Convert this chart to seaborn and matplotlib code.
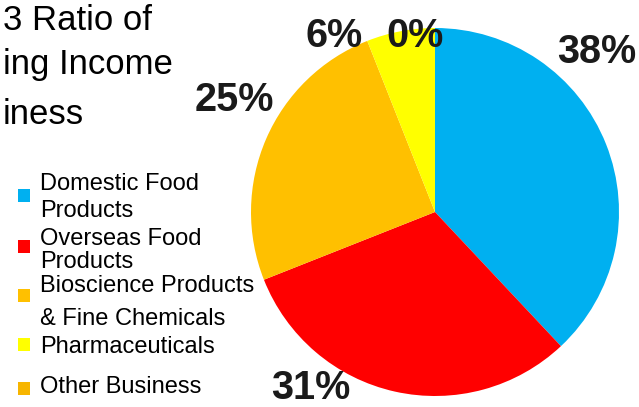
import matplotlib
matplotlib.use("Agg")
import matplotlib.pyplot as plt
from matplotlib.patches import Rectangle
import seaborn as sns

# Share of operating income by business segment (%)
segments = [
    "Domestic Food\nProducts",
    "Overseas Food\nProducts",
    "Bioscience Products\n& Fine Chemicals",
    "Pharmaceuticals",
    "Other Business",
]
shares = [38, 31, 25, 6, 0]
segment_colors = ["#00B0F0", "#FF0000", "#FFC000", "#FFFF00", "#F7B500"]
title_lines = ["3 Ratio of", "ing Income", "iness"]

sns.set_theme(style="white")
plt.rcParams["font.family"] = ["Liberation Sans", "DejaVu Sans"]
palette = sns.color_palette(segment_colors)

W, H = 639, 407
fig = plt.figure(figsize=(W / 100, H / 100), dpi=100)
fig.patch.set_facecolor("white")

# Pie axes: centre (435, 212) px, radius 184 px
cx, cy, r = 435, 212, 184
ax = fig.add_axes([(cx - r) / W, (H - cy - r) / H, 2 * r / W, 2 * r / H])
ax.pie(shares, colors=palette, startangle=90, counterclock=False,
       wedgeprops=dict(linewidth=0))
ax.set_xlim(-1, 1)
ax.set_ylim(-1, 1)
ax.set_aspect("equal")
ax.axis("off")

# Percentage labels around the pie (data coordinates, radius = 1)
label_pos = [(0.880, 0.870), (-0.674, -0.955), (-1.092, 0.609),
             (-0.549, 0.957), (-0.109, 0.957)]
for v, (lx, ly) in zip(shares, label_pos):
    ax.text(lx, ly, f"{v}%", ha="center", va="center", fontsize=28.5,
            fontweight="bold", color="#1a1a1a", clip_on=False)

# Title block at the upper left
title_baselines = [30, 74, 124]
for line, by in zip(title_lines, title_baselines):
    fig.text(3 / W, 1 - by / H, line, fontsize=25,
             color="black", ha="left", va="baseline")

# Legend, drawn as a hand-placed list
line_baselines = [[190, 217], [245, 268], [292, 325], [353], [393]]
marker_centers = [196, 246, 295, 344, 388]
sq = 13
for label, color, lines_y, my in zip(segments, palette, line_baselines, marker_centers):
    fig.add_artist(Rectangle(((24 - sq / 2) / W, 1 - (my + sq / 2) / H),
                             sq / W, sq / H, transform=fig.transFigure,
                             facecolor=color, edgecolor="none"))
    for text_line, ly in zip(label.split("\n"), lines_y):
        fig.text(40 / W, 1 - ly / H, text_line, fontsize=17,
                 color="black", ha="left", va="baseline")

fig.savefig("out.png", dpi=100)
